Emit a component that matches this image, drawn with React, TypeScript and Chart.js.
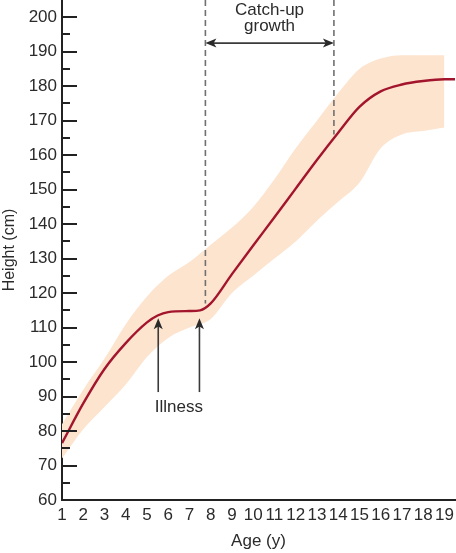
import React, { useEffect, useRef } from "react";
import { Chart, registerables } from "chart.js";

Chart.register(...registerables);

// ---- data ----
const bandAges = [1, 2, 3, 4, 5, 6, 7, 8, 9, 10, 11, 12, 13, 14, 15, 16, 17, 18, 19];
const bandUpper = [82, 92, 101, 111, 119, 125, 129, 134, 139, 145, 153, 162, 170, 178, 185, 188, 189, 189, 189];
const bandLower = [72, 80.5, 87, 93.5, 101.5, 107, 110, 112.5, 120, 125, 130, 135, 141, 146.5, 152, 162, 166, 167, 168];

const curveAges = [1, 2, 3, 4, 5, 5.5, 6, 7, 7.5, 8, 9, 10, 11, 12, 13, 14, 15, 16, 17, 18, 19, 19.5];
const curveHeights = [76.5, 88, 98, 105.5, 111.5, 113.5, 114.5, 114.8, 115, 117, 125.5, 133.8, 142, 150.3, 158.6, 166.5, 174, 178.5, 180.5, 181.5, 182, 182];

const xTickAges = [1, 2, 3, 4, 5, 6, 7, 8, 9, 10, 11, 12, 13, 14, 15, 16, 17, 18, 19];
const yTickHeights = [60, 70, 80, 90, 100, 110, 120, 130, 140, 150, 160, 170, 180, 190, 200];

const illnessAges = [5.53, 7.47];
const illnessArrowFrom = 91.3;
const illnessArrowTo = 112.7;
const illnessLabel = "Illness";
const illnessLabelAt = { x: 6.5, y: 87 };

const catchUpStart = 7.75;
const catchUpEnd = 13.8;
const catchUpStartBottom = 117;
const catchUpEndBottom = 166;
const catchUpArrowHeight = 192.5;
const catchUpLabel = ["Catch-up", "growth"];
const catchUpLabelAt = { x: 10.77, y: [202, 197.3] };

const X_MIN = 1;
const X_MAX = 19.5;
const Y_MIN = 60;
const Y_MAX = 205;

const FONT = "'Liberation Sans', Arial, Helvetica, sans-serif";
const TEXT = "#2b2b2b";
const AXIS = "#222222";

function arrowHead(ctx: CanvasRenderingContext2D, x: number, y: number, ang: number, len: number, half: number) {
  ctx.beginPath();
  ctx.moveTo(x, y);
  ctx.lineTo(x - len * Math.cos(ang) + half * Math.sin(ang), y - len * Math.sin(ang) - half * Math.cos(ang));
  ctx.lineTo(x - len * 0.75 * Math.cos(ang), y - len * 0.75 * Math.sin(ang));
  ctx.lineTo(x - len * Math.cos(ang) - half * Math.sin(ang), y - len * Math.sin(ang) + half * Math.cos(ang));
  ctx.closePath();
  ctx.fill();
}

const annotations = {
  id: "annotations",
  afterDatasetsDraw(chart: any) {
    const { ctx, scales } = chart;
    const x = scales.x;
    const y = scales.y;
    ctx.save();

    // inward y ticks (major + minor)
    ctx.strokeStyle = AXIS;
    ctx.lineWidth = 2;
    yTickHeights.forEach((v) => {
      [v, v + 5].forEach((t, i) => {
        if (t > 200) return;
        const py = Math.round(y.getPixelForValue(t));
        const len = i === 0 ? 15 : 8;
        ctx.beginPath();
        ctx.moveTo(x.left, py);
        ctx.lineTo(x.left + len, py);
        ctx.stroke();
      });
    });

    // illness arrows
    ctx.strokeStyle = "#3a3a3a";
    ctx.fillStyle = "#2a2a2a";
    ctx.lineWidth = 1.6;
    illnessAges.forEach((a) => {
      const px = x.getPixelForValue(a);
      const y1 = y.getPixelForValue(illnessArrowFrom);
      const y2 = y.getPixelForValue(illnessArrowTo);
      ctx.beginPath();
      ctx.moveTo(px, y1);
      ctx.lineTo(px, y2 + 6);
      ctx.stroke();
      arrowHead(ctx, px, y2, -Math.PI / 2, 11, 4.5);
    });

    // catch-up double arrow
    const ax1 = x.getPixelForValue(catchUpStart);
    const ax2 = x.getPixelForValue(catchUpEnd);
    const ay = y.getPixelForValue(catchUpArrowHeight);
    ctx.beginPath();
    ctx.moveTo(ax1 + 6, ay);
    ctx.lineTo(ax2 - 6, ay);
    ctx.stroke();
    arrowHead(ctx, ax1, ay, Math.PI, 11, 4.5);
    arrowHead(ctx, ax2, ay, 0, 11, 4.5);

    // text
    ctx.fillStyle = TEXT;
    ctx.font = `17px ${FONT}`;
    ctx.textAlign = "center";
    ctx.textBaseline = "middle";
    ctx.fillText(illnessLabel, x.getPixelForValue(illnessLabelAt.x), y.getPixelForValue(illnessLabelAt.y));
    catchUpLabel.forEach((t, i) => {
      ctx.fillText(t, x.getPixelForValue(catchUpLabelAt.x), y.getPixelForValue(catchUpLabelAt.y[i]));
    });

    ctx.restore();
  },
};

export default function App() {
  const ref = useRef<HTMLCanvasElement | null>(null);

  useEffect(() => {
    if (!ref.current) return;
    const dashed = {
      type: "line" as const,
      borderColor: "#707070",
      borderWidth: 1.6,
      borderDash: [6, 4],
      pointRadius: 0,
      fill: false,
    };
    const chart = new Chart(ref.current, {
      type: "line",
      data: {
        datasets: [
          {
            label: "height",
            order: 0,
            data: curveAges.map((a, i) => ({ x: a, y: curveHeights[i] })),
            borderColor: "#a3152d",
            borderWidth: 2.4,
            pointRadius: 0,
            fill: false,
            cubicInterpolationMode: "monotone",
          },
          {
            ...dashed,
            order: 1,
            label: "start",
            data: [
              { x: catchUpStart, y: Y_MAX },
              { x: catchUpStart, y: catchUpStartBottom },
            ],
          },
          {
            ...dashed,
            order: 2,
            label: "end",
            data: [
              { x: catchUpEnd, y: Y_MAX },
              { x: catchUpEnd, y: catchUpEndBottom },
            ],
          },
          {
            label: "lower",
            order: 3,
            data: bandAges.map((a, i) => ({ x: a, y: bandLower[i] })),
            borderWidth: 0,
            borderColor: "rgba(0,0,0,0)",
            pointRadius: 0,
            fill: false,
            cubicInterpolationMode: "monotone",
          },
          {
            label: "upper",
            order: 4,
            data: bandAges.map((a, i) => ({ x: a, y: bandUpper[i] })),
            borderWidth: 0,
            borderColor: "rgba(0,0,0,0)",
            backgroundColor: "#fde4cf",
            pointRadius: 0,
            fill: "-1",
            cubicInterpolationMode: "monotone",
          },
        ],
      },
      options: {
        animation: false,
        responsive: true,
        maintainAspectRatio: false,
        layout: { padding: { top: 0, right: 1, left: 0, bottom: 0 } },
        plugins: {
          legend: { display: false },
          tooltip: { enabled: false },
          filler: { drawTime: "beforeDatasetsDraw" },
        } as any,
        scales: {
          x: {
            type: "linear",
            min: X_MIN,
            max: X_MAX,
            afterFit: (s: any) => {
              s.height = 53;
              s.paddingRight = 0;
            },
            afterBuildTicks: (s: any) => {
              s.ticks = xTickAges.map((v) => ({ value: v }));
            },
            ticks: {
              autoSkip: false,
              maxRotation: 0,
              minRotation: 0,
              padding: 5,
              color: TEXT,
              font: { family: FONT, size: 17 },
            },
            grid: { display: false, drawTicks: false },
            border: { display: true, color: AXIS, width: 2 },
            title: {
              display: true,
              text: "Age (y)",
              color: TEXT,
              font: { family: FONT, size: 17 },
              padding: { top: 0, bottom: 1 },
            },
          },
          y: {
            type: "linear",
            min: Y_MIN,
            max: Y_MAX,
            afterFit: (s: any) => {
              s.width = 62;
              s.paddingTop = 0;
              s.paddingBottom = 0;
            },
            afterBuildTicks: (s: any) => {
              s.ticks = yTickHeights.map((v) => ({ value: v }));
            },
            ticks: {
              padding: 5,
              color: TEXT,
              font: { family: FONT, size: 17 },
            },
            grid: { display: false, drawTicks: false },
            border: { display: true, color: AXIS, width: 2 },
            title: {
              display: true,
              text: "Height (cm)",
              color: TEXT,
              font: { family: FONT, size: 16 },
              padding: { top: 0, bottom: 0 },
            },
          },
        },
      },
      plugins: [annotations],
    });
    return () => chart.destroy();
  }, []);

  return (
    <div style={{ position: "absolute", left: 0, top: 0, width: 456, height: 553, background: "#fff" }}>
      <canvas ref={ref} />
    </div>
  );
}
